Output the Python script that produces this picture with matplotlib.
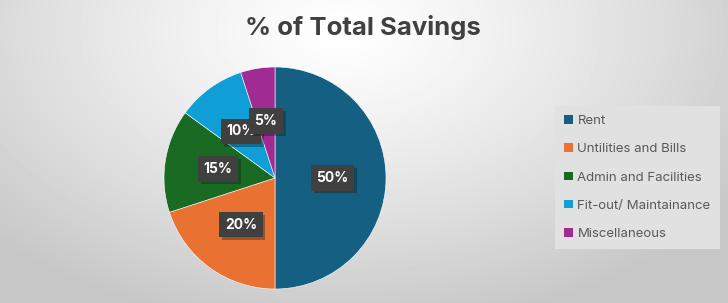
import numpy as np
import matplotlib
matplotlib.use('Agg')
import matplotlib.pyplot as plt
from matplotlib.patches import Patch
import matplotlib.patheffects as pe

categories = ['Rent', 'Untilities and Bills', 'Admin and Facilities',
              'Fit-out/ Maintainance', 'Miscellaneous']
shares = [50, 20, 15, 10, 5]
colors = ['#156082', '#E97132', '#196B24', '#0F9ED5', '#A02B93']

plt.rcParams['font.family'] = ['Inter', 'DejaVu Sans']

fig = plt.figure(figsize=(7.28, 3.03), dpi=100)

# radial grey background
bg = fig.add_axes([0, 0, 1, 1])
yy, xx = np.mgrid[0:303, 0:728]
r = np.sqrt(((xx - 340) / 480.0) ** 2 + ((yy - 30) / 300.0) ** 2)
shade = 1.0 - 0.22 * np.clip(r, 0, 1) ** 1.2
bg.imshow(shade, cmap='gray', vmin=0, vmax=1, aspect='auto',
          extent=[0, 1, 0, 1], origin='upper')
bg.axis('off')

ax = fig.add_axes([164 / 728, 14 / 303, 222 / 728, 222 / 303])
wedges, texts, autotexts = ax.pie(
    shares, colors=colors, startangle=90, counterclock=False,
    autopct='%d%%', pctdistance=0.52,
    wedgeprops=dict(edgecolor='white', linewidth=0.4))
ax.set_xlim(-1, 1)
ax.set_ylim(-1, 1)
ax.set_aspect('equal')

for t in autotexts:
    t.set_color('white')
    t.set_fontsize(10)
    t.set_fontweight('bold')
    t.set_bbox(dict(boxstyle='square,pad=0.4', facecolor='#404040',
                    edgecolor='none',
                    path_effects=[pe.withSimplePatchShadow(offset=(2, -2),
                                                           alpha=0.35)]))

fig.text(363 / 728, 1 - 28 / 303, '% of Total Savings', ha='center',
         va='center', fontsize=18.5, fontweight='bold', color='#404040')

handles = [Patch(facecolor=c, edgecolor='none') for c in colors]
leg = fig.legend(handles, categories, loc='upper left',
                 bbox_to_anchor=(555 / 728, 1 - 106 / 303),
                 frameon=True, fancybox=False, fontsize=9.5,
                 labelcolor='#595959', handlelength=0.65, handleheight=0.65,
                 handletextpad=0.35, labelspacing=1.22, borderpad=0.7,
                 borderaxespad=0)
leg.get_frame().set_facecolor('#e1e1e1')
leg.get_frame().set_edgecolor('none')
leg.get_frame().set_alpha(1)

fig.savefig('out.png', dpi=100)
